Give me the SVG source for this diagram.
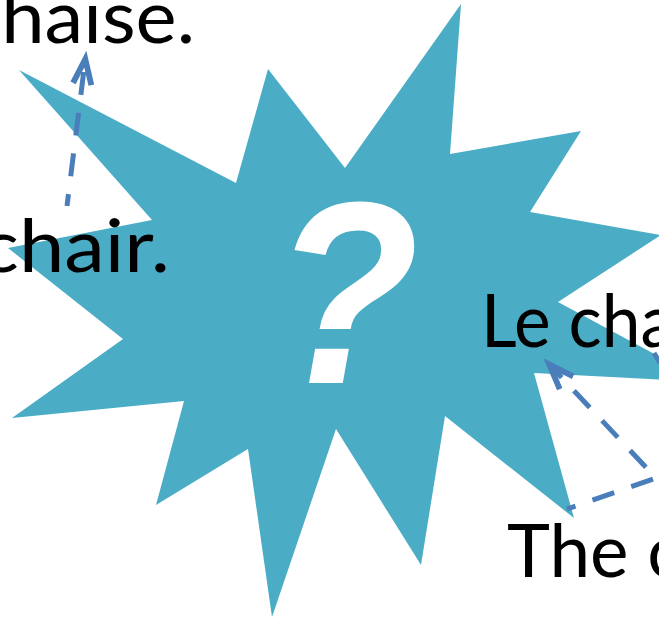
<svg xmlns="http://www.w3.org/2000/svg" width="659" height="620" viewBox="0 0 659 620">
<style>
.star{fill:#4BACC6;}
.lbl{font-family:Lato,"Liberation Sans",sans-serif;font-size:73px;fill:#000;}
.q{font-family:"Liberation Sans",Arial,sans-serif;font-weight:bold;font-style:italic;font-size:260px;fill:#fff;}
.conn{fill:none;stroke:#4A7EBB;stroke-width:5;stroke-dasharray:23 18;}
</style>
<defs>
<marker id="ah" markerUnits="userSpaceOnUse" markerWidth="44" markerHeight="44" viewBox="-34 -16 38 32" refX="-15" refY="0" orient="auto">
<path d="M0,0 L-28.2,-10.3 L-29.9,-5.6 L-14.6,0 L-29.9,5.6 L-28.2,10.3 Z" fill="#4A7EBB"/>
</marker>
</defs>
<rect width="659" height="620" fill="#fff"/>
<g id="star">
<polygon class="star" points="19,70 236,183 268,69 345,168 461,4 450,154 581,131 530,212 661,235 558,302 706,382 534,373 574,518 445,416 421,565 336,429 272,617 248,449 156,505 184,401 12,418 123,339 8,248 152,220"/>
<text class="q" transform="translate(346,383) scale(0.92,1)" x="0" y="0" text-anchor="middle">?</text>
</g>
<g id="text-chaise"><text class="lbl" x="-36" y="43" textLength="231" lengthAdjust="spacingAndGlyphs">chaise.</text></g>
<g id="text-chair"><text class="lbl" x="-20" y="272" textLength="190" lengthAdjust="spacingAndGlyphs">chair.</text></g>
<g id="text-le-cha"><text class="lbl" x="481" y="347" textLength="194" lengthAdjust="spacingAndGlyphs">Le cha</text></g>
<g id="text-the-c"><text class="lbl" x="507" y="577" textLength="175" lengthAdjust="spacingAndGlyphs">The c</text></g>
<g id="connectors">
<path class="conn" style="stroke-dashoffset:11" d="M67,206 L84.2,67.9" marker-end="url(#ah)"/>
<path class="conn" style="stroke-dashoffset:14" d="M567,509 L656,478 L555.3,370.9" marker-end="url(#ah)"/>
<path d="M654,353 L660,363" stroke="#4A7EBB" stroke-width="5" fill="none"/>
</g>
</svg>
